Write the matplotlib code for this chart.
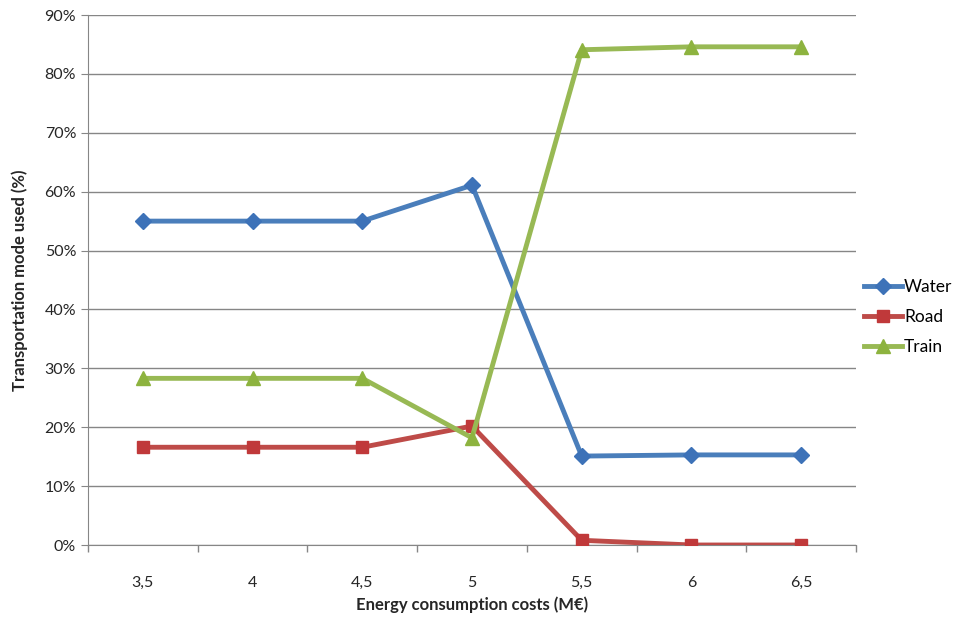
import numpy as np
from matplotlib import pyplot as plt

plt.rcParams['font.family'] = ['Lato', 'DejaVu Sans']

# Data
costs = ['3,5', '4', '4,5', '5', '5,5', '6', '6,5']
water = [55.0, 55.0, 55.0, 61.1, 15.1, 15.3, 15.3]
road = [16.6, 16.6, 16.6, 20.2, 0.8, 0.0, 0.0]
train = [28.3, 28.3, 28.3, 18.2, 84.1, 84.6, 84.6]

x = np.arange(len(costs))

fig = plt.figure(figsize=(9.54, 6.23), dpi=100)
ax = fig.add_axes([0.0922, 0.1252, 0.8051, 0.8507])

ax.plot(x, water, color='#4A7EBB', lw=3.5, marker='D', ms=8,
        mfc='#3D72B8', mec='#3D72B8', label='Water', zorder=3)
ax.plot(x, road, color='#BE4B48', lw=3.5, marker='s', ms=9,
        mfc='#C0393A', mec='#C0393A', label='Road', zorder=3)
ax.plot(x, train, color='#98B954', lw=3.5, marker='^', ms=10,
        mfc='#8DB33F', mec='#8DB33F', label='Train', zorder=3)

ax.set_xlim(-0.5, len(costs) - 0.5)
ax.set_ylim(0, 90)
ax.set_yticks(np.arange(0, 91, 10))
ax.set_yticklabels(['%d%%' % v for v in range(0, 91, 10)])
ax.set_xticks(x)
ax.set_xticklabels(costs)
ax.set_xticks(np.arange(-0.5, len(costs), 1), minor=True)
ax.tick_params(axis='x', which='major', length=0, pad=22, labelsize=11.5, colors='#262626')
ax.tick_params(axis='x', which='minor', length=5, color='#868686', width=1)
ax.tick_params(axis='y', length=5, color='#868686', labelsize=11.5, colors='#262626')

ax.grid(axis='y', color='#868686', lw=1)
ax.set_axisbelow(True)
for s in ['top', 'right']:
    ax.spines[s].set_visible(False)
for s in ['left', 'bottom']:
    ax.spines[s].set_color('#868686')

ax.set_xlabel('Energy consumption costs (M€)', fontsize=12, fontweight='bold',
              color='#262626', labelpad=5)
ax.set_ylabel('Transportation mode used (%)', fontsize=12, fontweight='bold',
              color='#262626', labelpad=12)

ax.legend(loc='center left', bbox_to_anchor=(0.99, 0.43), frameon=False,
          fontsize=12.5, handlelength=2.2, labelspacing=0.8, handletextpad=0.1)

fig.savefig('out.png', dpi=100)
